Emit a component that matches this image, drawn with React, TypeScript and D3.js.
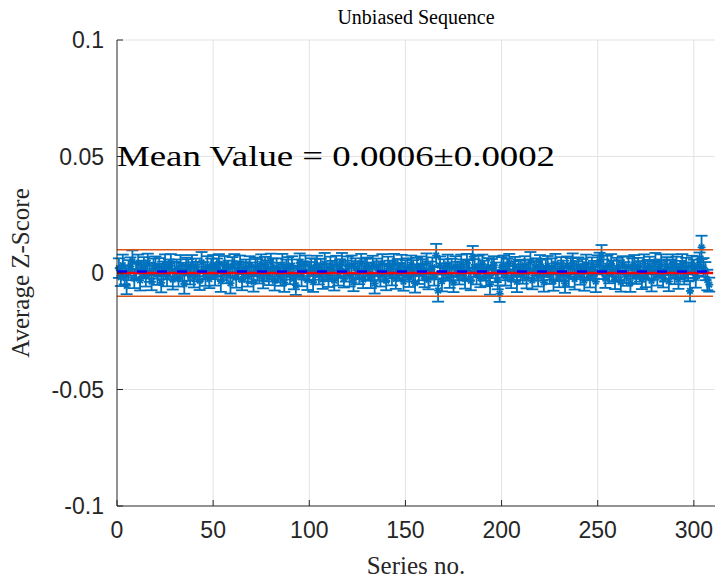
import React from 'react';
import * as d3 from 'd3';

// average z-score per series (index 1..308)
const zScores = [
  0.0021, -0.0018, 0.0034, -0.0009, -0.0055, 0.0012, 0.0028, 0.0050, -0.0024, 0.0007,
  0.0039, -0.0031, 0.0015, 0.0026, -0.0012, 0.0044, 0.0003, -0.0037, 0.0019, 0.0031,
  -0.0006, 0.0025, -0.0042, 0.0011, 0.0036, -0.0015, 0.0022, 0.0041, -0.0028, 0.0009,
  0.0017, -0.0021, 0.0033, 0.0004, -0.0047, 0.0028, 0.0013, -0.0008, 0.0038, -0.0019,
  0.0024, 0.0006, -0.0033, 0.0045, 0.0010, -0.0014, 0.0029, -0.0026, 0.0018, 0.0037,
  -0.0011, 0.0023, 0.0040, -0.0035, 0.0008, 0.0031, -0.0004, 0.0016, -0.0044, 0.0027,
  0.0042, -0.0020, 0.0012, 0.0035, -0.0029, 0.0005, 0.0021, -0.0016, 0.0033, 0.0001,
  -0.0038, 0.0026, 0.0014, -0.0007, 0.0039, -0.0023, 0.0030, 0.0009, -0.0012, 0.0046,
  0.0018, -0.0034, 0.0024, 0.0002, -0.0017, 0.0036, -0.0041, 0.0015, 0.0027, -0.0009,
  0.0032, -0.0025, -0.0052, 0.0020, 0.0043, -0.0013, 0.0011, 0.0038, -0.0030, 0.0007,
  0.0025, -0.0039, 0.0016, 0.0034, -0.0006, 0.0022, -0.0027, 0.0040, 0.0003, -0.0018,
  0.0029, 0.0013, -0.0032, 0.0037, -0.0010, 0.0019, 0.0044, -0.0024, 0.0008, 0.0030,
  -0.0015, 0.0035, -0.0040, 0.0021, 0.0012, -0.0003, 0.0041, -0.0028, 0.0017, 0.0026,
  0.0006, -0.0021, 0.0033, -0.0045, 0.0024, 0.0010, -0.0012, 0.0039, 0.0002, -0.0033,
  0.0028, 0.0015, -0.0008, 0.0042, -0.0025, 0.0019, 0.0005, 0.0034, -0.0037, 0.0013,
  0.0023, -0.0017, 0.0036, 0.0009, -0.0043, 0.0027, -0.0005, 0.0031, 0.0014, -0.0022,
  0.0040, -0.0029, 0.0011, 0.0025, -0.0014, 0.0075, -0.0075, 0.0032, -0.0036, 0.0018,
  0.0004, 0.0037, -0.0019, 0.0022, -0.0041, 0.0029, 0.0008, -0.0011, 0.0035, 0.0016,
  -0.0026, 0.0043, 0.0012, -0.0034, 0.0070, 0.0021, -0.0007, 0.0030, -0.0022, 0.0038,
  0.0010, -0.0016, 0.0026, -0.0048, 0.0019, 0.0033, 0.0003, -0.0030, -0.0089, 0.0024,
  0.0036, -0.0012, 0.0015, 0.0041, -0.0027, 0.0007, 0.0029, -0.0038, 0.0020, 0.0011,
  -0.0005, 0.0034, -0.0023, 0.0018, 0.0045, -0.0031, 0.0009, 0.0026, -0.0014, 0.0037,
  0.0013, -0.0040, 0.0022, 0.0031, -0.0009, 0.0017, -0.0035, 0.0039, 0.0004, -0.0020,
  0.0028, 0.0010, -0.0044, 0.0033, -0.0016, 0.0024, 0.0042, -0.0026, 0.0012, 0.0030,
  -0.0008, 0.0021, -0.0032, 0.0038, 0.0006, -0.0019, 0.0027, 0.0014, -0.0037, 0.0035,
  0.0048, 0.0075, 0.0016, -0.0024, 0.0031, -0.0006, 0.0040, 0.0009, -0.0029, 0.0023,
  0.0012, -0.0039, 0.0034, 0.0002, -0.0015, 0.0028, -0.0042, 0.0019, 0.0036, -0.0010,
  0.0025, 0.0007, -0.0027, 0.0041, -0.0018, 0.0015, 0.0032, -0.0033, 0.0011, 0.0044,
  -0.0013, 0.0020, 0.0037, -0.0022, 0.0008, 0.0029, -0.0036, 0.0017, 0.0043, -0.0004,
  0.0026, -0.0028, 0.0013, 0.0039, -0.0011, 0.0022, 0.0005, -0.0077, 0.0034, 0.0018,
  -0.0021, 0.0030, 0.0045, 0.0110, 0.0024, 0.0008, -0.0030, -0.0050,
];

// half-length of each error bar
const zErrors = [
  0.0042, 0.0038, 0.0045, 0.0040, 0.0036, 0.0043, 0.0039, 0.0047, 0.0041, 0.0037,
  0.0040, 0.0044, 0.0038, 0.0042, 0.0046, 0.0039, 0.0041, 0.0037, 0.0043, 0.0040,
  0.0045, 0.0039, 0.0041, 0.0038, 0.0044, 0.0042, 0.0036, 0.0040, 0.0043, 0.0039,
  0.0041, 0.0037, 0.0044, 0.0040, 0.0042, 0.0038, 0.0046, 0.0041, 0.0039, 0.0043,
  0.0038, 0.0042, 0.0040, 0.0045, 0.0037, 0.0041, 0.0043, 0.0039, 0.0044, 0.0040,
  0.0043, 0.0039, 0.0041, 0.0046, 0.0038, 0.0042, 0.0040, 0.0037, 0.0044, 0.0041,
  0.0039, 0.0043, 0.0038, 0.0040, 0.0045, 0.0041, 0.0037, 0.0042, 0.0039, 0.0044,
  0.0042, 0.0040, 0.0046, 0.0038, 0.0041, 0.0043, 0.0039, 0.0045, 0.0040, 0.0037,
  0.0044, 0.0041, 0.0039, 0.0042, 0.0038, 0.0046, 0.0040, 0.0043, 0.0041, 0.0039,
  0.0040, 0.0045, 0.0042, 0.0038, 0.0041, 0.0044, 0.0039, 0.0037, 0.0043, 0.0040,
  0.0038, 0.0042, 0.0045, 0.0040, 0.0043, 0.0039, 0.0041, 0.0046, 0.0038, 0.0042,
  0.0041, 0.0039, 0.0043, 0.0037, 0.0044, 0.0040, 0.0042, 0.0038, 0.0045, 0.0041,
  0.0043, 0.0040, 0.0038, 0.0042, 0.0039, 0.0045, 0.0041, 0.0037, 0.0044, 0.0040,
  0.0039, 0.0044, 0.0041, 0.0043, 0.0038, 0.0040, 0.0046, 0.0042, 0.0039, 0.0041,
  0.0042, 0.0038, 0.0045, 0.0040, 0.0043, 0.0041, 0.0037, 0.0044, 0.0039, 0.0042,
  0.0040, 0.0043, 0.0039, 0.0046, 0.0041, 0.0038, 0.0042, 0.0040, 0.0045, 0.0039,
  0.0044, 0.0041, 0.0038, 0.0042, 0.0040, 0.0050, 0.0048, 0.0039, 0.0043, 0.0041,
  0.0037, 0.0042, 0.0045, 0.0039, 0.0041, 0.0043, 0.0040, 0.0038, 0.0044, 0.0042,
  0.0041, 0.0039, 0.0043, 0.0040, 0.0046, 0.0038, 0.0042, 0.0044, 0.0039, 0.0041,
  0.0043, 0.0040, 0.0038, 0.0045, 0.0041, 0.0039, 0.0042, 0.0040, 0.0035, 0.0044,
  0.0039, 0.0042, 0.0046, 0.0041, 0.0038, 0.0043, 0.0040, 0.0044, 0.0037, 0.0042,
  0.0041, 0.0038, 0.0043, 0.0040, 0.0045, 0.0039, 0.0042, 0.0037, 0.0044, 0.0040,
  0.0044, 0.0040, 0.0039, 0.0042, 0.0038, 0.0046, 0.0041, 0.0043, 0.0039, 0.0041,
  0.0040, 0.0043, 0.0041, 0.0038, 0.0044, 0.0040, 0.0042, 0.0045, 0.0039, 0.0037,
  0.0042, 0.0039, 0.0044, 0.0041, 0.0037, 0.0043, 0.0040, 0.0038, 0.0045, 0.0041,
  0.0039, 0.0045, 0.0042, 0.0040, 0.0043, 0.0038, 0.0041, 0.0044, 0.0040, 0.0042,
  0.0043, 0.0041, 0.0038, 0.0045, 0.0040, 0.0042, 0.0039, 0.0044, 0.0041, 0.0037,
  0.0040, 0.0044, 0.0042, 0.0039, 0.0043, 0.0041, 0.0038, 0.0046, 0.0040, 0.0042,
  0.0041, 0.0038, 0.0043, 0.0040, 0.0045, 0.0039, 0.0042, 0.0041, 0.0037, 0.0044,
  0.0044, 0.0040, 0.0039, 0.0042, 0.0038, 0.0043, 0.0041, 0.0045, 0.0040, 0.0039,
  0.0042, 0.0041, 0.0043, 0.0050, 0.0040, 0.0039, 0.0044, 0.0030,
];

const xTicks = [0, 50, 100, 150, 200, 250, 300];
const yTicks = [-0.1, -0.05, 0, 0.05, 0.1];
const yTickLabels = ['-0.1', '-0.05', '0', '0.05', '0.1'];
const meanValue = 0.0006;
const meanText = 'Mean Value = 0.0006\u00b10.0002';
const bandLimits = [-0.01, 0.01];

const W = 721;
const H = 582;
const margin = { top: 40, right: 6, bottom: 76, left: 117 };

const App: React.FC = () => {
  const x = d3.scaleLinear().domain([0, 311]).range([margin.left, W - margin.right]);
  const y = d3.scaleLinear().domain([-0.1, 0.1]).range([H - margin.bottom, margin.top]);

  const points = zScores.map((v, i) => ({ n: i + 1, v, e: zErrors[i] }));
  const blue = '#0072BD';
  const cap = 6;
  const star = 4;
  const sans = '"Liberation Sans", Arial, sans-serif';
  const serif = '"Liberation Serif", "DejaVu Serif", serif';

  const x0 = x.range()[0], x1 = x.range()[1];
  const yTop = y.range()[1], yBot = y.range()[0];

  return (
    <svg width={W} height={H} style={{ position: 'absolute', left: 0, top: 0, background: '#fff' }}>
      {/* grid */}
      <g stroke="#e3e3e3" strokeWidth={1}>
        {xTicks.filter(t => t > 0).map(t => (
          <line key={'gx' + t} x1={x(t)} x2={x(t)} y1={yTop} y2={yBot} />
        ))}
        {yTicks.filter(t => t > -0.1).map(t => (
          <line key={'gy' + t} x1={x0} x2={x1} y1={y(t)} y2={y(t)} />
        ))}
      </g>

      {/* error bars */}
      <g stroke={blue} strokeWidth={1.8} fill="none">
        {points.map(p => {
          const cx = x(p.n);
          const cy = y(p.v);
          const hi = y(p.v + p.e);
          const lo = y(p.v - p.e);
          return (
            <g key={p.n}>
              <line x1={cx} x2={cx} y1={hi} y2={lo} />
              <line x1={cx - cap} x2={cx + cap} y1={hi} y2={hi} />
              <line x1={cx - cap} x2={cx + cap} y1={lo} y2={lo} />
              <line x1={cx - star} x2={cx + star} y1={cy} y2={cy} />
              <line x1={cx} x2={cx} y1={cy - star} y2={cy + star} />
              <line x1={cx - star * 0.7} x2={cx + star * 0.7} y1={cy - star * 0.7} y2={cy + star * 0.7} />
              <line x1={cx - star * 0.7} x2={cx + star * 0.7} y1={cy + star * 0.7} y2={cy - star * 0.7} />
            </g>
          );
        })}
      </g>

      {/* ±0.01 band */}
      {bandLimits.map(b => (
        <line key={'b' + b} x1={x(0)} x2={x(310)} y1={y(b)} y2={y(b)} stroke="#D95319" strokeWidth={1.6} />
      ))}
      {/* zero line and mean */}
      <line x1={x(0)} x2={x(310)} y1={y(0)} y2={y(0)} stroke="#ff0000" strokeWidth={2.5} />
      <line x1={x(0)} x2={x(310)} y1={y(meanValue)} y2={y(meanValue)} stroke="#0000ff" strokeWidth={2.5} strokeDasharray="10 10" />

      {/* axes */}
      <g stroke="#262626" strokeWidth={1}>
        <line x1={x0} x2={x0} y1={yTop} y2={yBot} />
        <line x1={x0} x2={x1} y1={yBot} y2={yBot} />
        {xTicks.map(t => (
          <line key={'tx' + t} x1={x(t)} x2={x(t)} y1={yBot} y2={yBot - 6} />
        ))}
        {yTicks.map(t => (
          <line key={'ty' + t} x1={x0} x2={x0 + 6} y1={y(t)} y2={y(t)} />
        ))}
      </g>
      <g fontFamily={sans} fontSize={23} fill="#262626">
        {xTicks.map(t => (
          <text key={'lx' + t} x={x(t)} y={yBot + 32} textAnchor="middle">{t}</text>
        ))}
        {yTicks.map((t, i) => (
          <text key={'ly' + t} x={x0 - 13} y={y(t) + 8} textAnchor="end">{yTickLabels[i]}</text>
        ))}
      </g>

      {/* titles */}
      <text x={(x0 + x1) / 2} y={24} textAnchor="middle" fontFamily={serif} fontSize={20} fill="#000">
        Unbiased Sequence
      </text>
      <text x={(x0 + x1) / 2} y={574} textAnchor="middle" fontFamily={serif} fontSize={25} fill="#262626">
        Series no.
      </text>
      <text transform={`translate(29,${(yTop + yBot) / 2}) rotate(-90)`} textAnchor="middle" fontFamily={serif} fontSize={25} fill="#262626">
        Average Z-Score
      </text>
      <text x={x0} y={166} fontFamily={serif} fontSize={30} fill="#000" textLength={438} lengthAdjust="spacingAndGlyphs">
        {meanText}
      </text>
    </svg>
  );
};

export default App;
